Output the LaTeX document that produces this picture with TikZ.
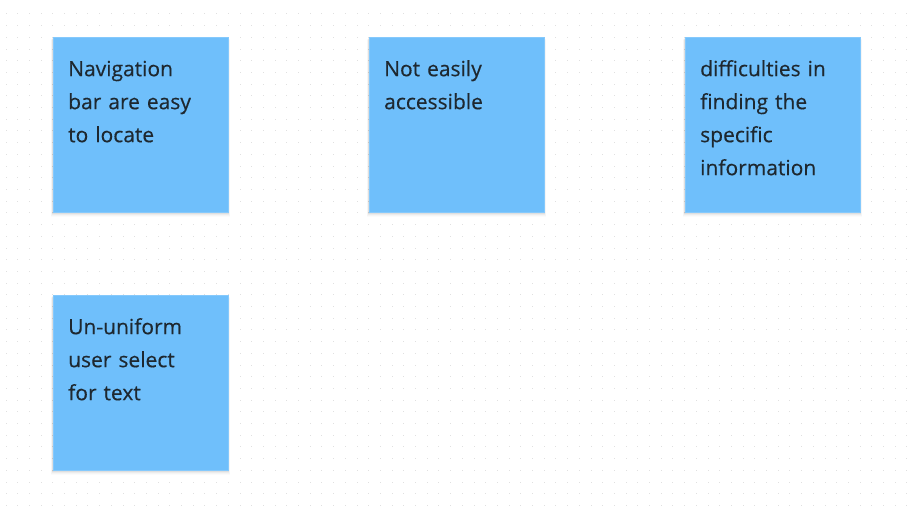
\documentclass[tikz,border=0pt]{standalone}
\usepackage{fontspec}
\setmainfont[FakeBold=0.35]{Open Sans}
\usetikzlibrary{calc}
\definecolor{sticky}{HTML}{6FBFFB}
\definecolor{ink}{HTML}{1E2830}
\definecolor{griddot}{HTML}{E0E0E0}
\tikzset{
  note/.style={fill=sticky, draw=sticky!85!white, line width=0.6pt, minimum width=175pt, minimum height=175pt, inner sep=0pt, anchor=north west},
  txt/.style={text=ink, font=\fontsize{21}{33}\selectfont, text width=155pt, align=left, inner sep=0pt, anchor=north west},
}
\newcommand{\notewithtext}[3]{%
  \foreach \k/\o in {1/0.05,2/0.035,3/0.025,4/0.015}{
    \fill[black, opacity=\o] ($(#2)+(-\k*0.6,\k*0.4+1)$) rectangle ($(#2)+(175+\k*0.6,175+\k*1+1)$);
  }
  \node[note] (#1) at (#2) {};
  \node[txt] (#1t) at ($(#2)+(15,19)$) {\rule{0pt}{20pt}#3};
}
\begin{document}
\begin{tikzpicture}[x=1pt,y=-1pt]
\useasboundingbox (0,0) rectangle (916,516);
\fill[white] (0,0) rectangle (916,516);
\foreach \i in {0,...,77}{
  \foreach \j in {0,...,42}{
    \fill[griddot] (6+\i*11.7-0.5, 14+\j*11.7-0.5) rectangle ++(1,1);
  }
}
\notewithtext{n1}{53,37}{Navigation\\bar are easy\\to locate}
\notewithtext{n2}{369,37}{Not easily\\accessible}
\notewithtext{n3}{685,37}{difficulties in\\finding the\\specific\\information}
\notewithtext{n4}{53,295}{Un-uniform\\user select\\for text}
\end{tikzpicture}
\end{document}
